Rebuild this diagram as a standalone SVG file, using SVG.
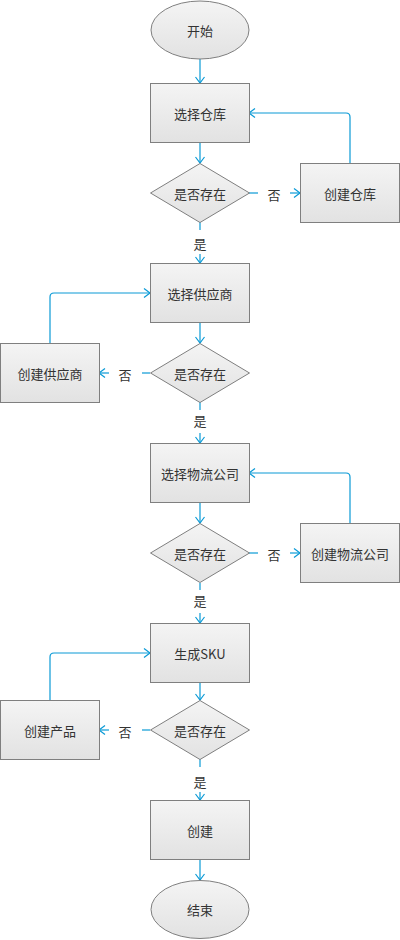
<svg xmlns="http://www.w3.org/2000/svg" width="400" height="940" viewBox="0 0 400 940">
<defs>
<linearGradient id="g" x1="0" y1="0" x2="0" y2="1">
<stop offset="0" stop-color="#f4f4f4"/>
<stop offset="1" stop-color="#e2e2e2"/>
</linearGradient>
<marker id="ar" markerUnits="userSpaceOnUse" markerWidth="8" markerHeight="12" viewBox="0 0 8 12" refX="7" refY="6" orient="auto">
<path d="M1,1.5 L7,6 L1,10.5" fill="none" stroke="#0a9ad6" stroke-width="1.2"/>
</marker>
</defs>
<style>
.n{fill:url(#g);stroke:#7f7f7f;stroke-width:1}
.t{font-family:"Noto Sans CJK SC","Liberation Sans",sans-serif;font-size:13px;fill:#333;text-anchor:middle;dominant-baseline:central}
.c{fill:none;stroke:#0a9ad6;stroke-width:1.2}
.a{marker-end:url(#ar)}
</style>
<rect width="400" height="940" fill="#fff"/>
<g id="connectors">
<path class="c a" d="M200,59 V83"/>
<path class="c a" d="M200,142 V163"/>
<path class="c" d="M249,193 H258"/>
<path class="c a" d="M290,193 H300"/>
<path class="c a" d="M350,163 V117 Q350,113 346,113 H249"/>
<path class="c" d="M200,222 V230"/>
<path class="c a" d="M200,254 V263"/>
<path class="c a" d="M200,322 V343"/>
<path class="c" d="M150,373 H142"/>
<path class="c a" d="M109,373 H99"/>
<path class="c a" d="M50,343 V297 Q50,293 54,293 H150"/>
<path class="c" d="M200,402 V410"/>
<path class="c a" d="M200,433 V443"/>
<path class="c a" d="M200,502 V523"/>
<path class="c" d="M249,553 H258"/>
<path class="c a" d="M290,553 H300"/>
<path class="c a" d="M350,523 V477 Q350,473 346,473 H249"/>
<path class="c" d="M200,583 V590"/>
<path class="c a" d="M200,613 V623"/>
<path class="c a" d="M200,682 V700"/>
<path class="c" d="M150,730 H142"/>
<path class="c a" d="M109,730 H99"/>
<path class="c a" d="M50,700 V657 Q50,653 54,653 H150"/>
<path class="c" d="M200,759 V767"/>
<path class="c a" d="M200,792 V800"/>
<path class="c a" d="M200,859 V880"/>
<text class="t" x="274" y="194">否</text>
<text class="t" x="200" y="243">是</text>
<text class="t" x="125" y="374">否</text>
<text class="t" x="200" y="420">是</text>
<text class="t" x="274" y="554">否</text>
<text class="t" x="200" y="600">是</text>
<text class="t" x="125" y="731">否</text>
<text class="t" x="200" y="781">是</text>
</g>
<g id="start"><ellipse class="n" cx="200" cy="30" rx="49" ry="29"/><text class="t" x="200" y="30">开始</text></g>
<g id="selWarehouse"><rect class="n" x="150.5" y="83.5" width="99" height="59"/><text class="t" x="200" y="113">选择仓库</text></g>
<g id="dec1"><path class="n" d="M200,163.5 L249.5,193 L200,222.5 L150.5,193 Z"/><text class="t" x="200" y="193">是否存在</text></g>
<g id="newWarehouse"><rect class="n" x="300.5" y="163.5" width="99" height="59"/><text class="t" x="350" y="193">创建仓库</text></g>
<g id="selSupplier"><rect class="n" x="150.5" y="263.5" width="99" height="59"/><text class="t" x="200" y="293">选择供应商</text></g>
<g id="dec2"><path class="n" d="M200,343.5 L249.5,373 L200,402.5 L150.5,373 Z"/><text class="t" x="200" y="373">是否存在</text></g>
<g id="newSupplier"><rect class="n" x="0.5" y="343.5" width="99" height="59"/><text class="t" x="50" y="373">创建供应商</text></g>
<g id="selLogistics"><rect class="n" x="150.5" y="443.5" width="99" height="59"/><text class="t" x="200" y="473">选择物流公司</text></g>
<g id="dec3"><path class="n" d="M200,523.5 L249.5,553 L200,582.5 L150.5,553 Z"/><text class="t" x="200" y="553">是否存在</text></g>
<g id="newLogistics"><rect class="n" x="300.5" y="523.5" width="99" height="59"/><text class="t" x="350" y="553">创建物流公司</text></g>
<g id="genSku"><rect class="n" x="150.5" y="623.5" width="99" height="59"/><text class="t" x="200" y="653">生成SKU</text></g>
<g id="dec4"><path class="n" d="M200,700.5 L249.5,730 L200,759.5 L150.5,730 Z"/><text class="t" x="200" y="730">是否存在</text></g>
<g id="newProduct"><rect class="n" x="0.5" y="700.5" width="99" height="59"/><text class="t" x="50" y="730">创建产品</text></g>
<g id="create"><rect class="n" x="150.5" y="800.5" width="99" height="59"/><text class="t" x="200" y="830">创建</text></g>
<g id="end"><ellipse class="n" cx="200" cy="909.5" rx="49" ry="29"/><text class="t" x="200" y="909.5">结束</text></g>
</svg>
